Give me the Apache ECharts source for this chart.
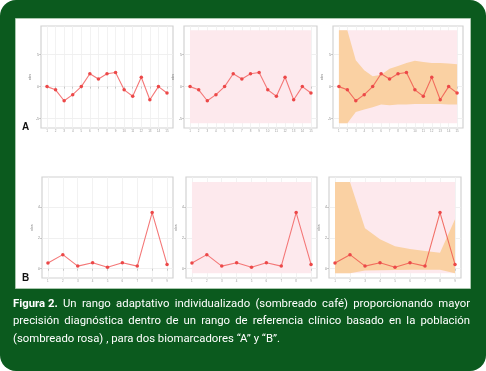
<!DOCTYPE html>
<html><head><meta charset="utf-8">
<script src="https://cdn.jsdelivr.net/npm/echarts@6/dist/echarts.min.js"></script>
<style>html,body{margin:0;padding:0;background:#fff}#c{width:486px;height:371px}</style>
</head><body><div id="c"></div>
<script>
// ---- data ----
const xA = [1,2,3,4,5,6,7,8,9,10,11,12,13,14,15];
const obsA = [0, -0.5, -2.2, -1.25, 0, 2.0, 1.2, 2.0, 2.2, -0.5, -1.5, 1.45, -2.05, 0, -1.0];
const refA = [-5.7, 8.8];
const bandLowA = [-5.7, -5.7, -3.95, -3.55, -3.2, -2.8, -2.9, -2.8, -2.77, -2.7, -2.7, -2.7, -2.7, -2.77, -2.77];
const bandHighA = [8.8, 8.8, 4.1, 2.55, 1.6, 1.87, 2.8, 3.2, 3.7, 4.05, 3.85, 3.7, 3.7, 3.6, 3.5];
const yTicksA = [-5, 0, 5];

const xB = [1,2,3,4,5,6,7,8,9];
const obsB = [0.37, 0.91, 0.17, 0.39, 0.09, 0.39, 0.17, 3.63, 0.28];
const refB = [-0.3, 5.6];
const bandLowB = [-0.3, -0.3, -0.12, -0.1, -0.08, -0.07, -0.07, -0.07, -0.3];
const bandHighB = [5.6, 5.6, 2.62, 1.9, 1.46, 1.27, 1.15, 1.03, 3.2];
const yTicksB = [0, 2, 4];

const yName = 'obs';
const rowLabels = ['A', 'B'];
const captionBold = 'Figura 2.';
const captionLines = [
  'Un rango adaptativo individualizado (sombreado café) proporcionando mayor',
  'precisión diagnóstica dentro de un rango de referencia clínico basado en la población',
  '(sombreado rosa) , para dos biomarcadores “A” y “B”.'
];

// ---- layout ----
const panels = [
  {row:'A', kind:0, left:41,  top:26,  width:132, height:102},
  {row:'A', kind:1, left:184, top:26,  width:133, height:102},
  {row:'A', kind:2, left:333, top:26,  width:130, height:102},
  {row:'B', kind:0, left:42,  top:177, width:131, height:101},
  {row:'B', kind:1, left:186, top:177, width:131, height:101},
  {row:'B', kind:2, left:329, top:177, width:132, height:101}
];
const rowData = {
  A: {x:xA, obs:obsA, ref:refA, lo:bandLowA, hi:bandHighA, yt:yTicksA, xmin:0.3, xmax:15.7, ymin:-6.45, ymax:9.45},
  B: {x:xB, obs:obsB, ref:refB, lo:bandLowB, hi:bandHighB, yt:yTicksB, xmin:0.6, xmax:9.4, ymin:-0.6, ymax:5.93}
};

const grid = [], xAxis = [], yAxis = [], series = [];
panels.forEach((p, i) => {
  const d = rowData[p.row];
  grid.push({left:p.left, top:p.top, width:p.width, height:p.height, show:true,
    borderColor:'#d2d2d2', borderWidth:1.2, backgroundColor:'#fff'});
  xAxis.push({type:'value', gridIndex:i, min:d.xmin, max:d.xmax,
    axisLine:{show:false},
    axisTick:{show:true, length:2, lineStyle:{color:'#aaa', width:0.6}, customValues:d.x},
    axisLabel:{customValues:d.x, fontSize:3, color:'#999', margin:2},
    splitLine:{show:true, lineStyle:{color:'#efefef', width:0.8}}});
  yAxis.push({type:'value', gridIndex:i, min:d.ymin, max:d.ymax,
    axisLine:{show:false},
    axisTick:{show:true, length:2, lineStyle:{color:'#aaa', width:0.6}, customValues:d.yt},
    axisLabel:{customValues:d.yt, fontSize:3.5, color:'#888', margin:2},
    splitLine:{show:true, lineStyle:{color:'#ececec', width:0.8}},
    name:yName, nameLocation:'middle', nameGap:6, nameRotate:90,
    nameTextStyle:{fontSize:4, color:'#777'}});
  if (p.kind >= 1) {
    series.push({type:'line', xAxisIndex:i, yAxisIndex:i, z:1, silent:true,
      data:[[d.x[0], d.ref[0]], [d.x[d.x.length-1], d.ref[0]]],
      symbol:'none', lineStyle:{opacity:0},
      markArea:{silent:true, z:1, itemStyle:{color:'#fde9ed'},
        data:[[{xAxis:d.x[0], yAxis:d.ref[0]}, {xAxis:d.x[d.x.length-1], yAxis:d.ref[1]}]]}});
  }
  if (p.kind === 2) {
    series.push({type:'custom', xAxisIndex:i, yAxisIndex:i, z:2, silent:true, clip:true,
      data:d.x.map((x, k) => [x, d.lo[k], d.hi[k]]),
      encode:{x:0, y:[1, 2]},
      renderItem:function (params, api) {
        if (params.dataIndex !== 0) return null;
        const up = d.x.map((x, k) => api.coord([x, d.hi[k]]));
        const dn = d.x.map((x, k) => api.coord([x, d.lo[k]])).reverse();
        return {type:'polygon', shape:{points:up.concat(dn)}, style:{fill:'#fad1a3'}};
      }});
  }
  series.push({type:'line', xAxisIndex:i, yAxisIndex:i, z:5, silent:true,
    data:d.x.map((x, k) => [x, d.obs[k]]),
    symbol:'circle', symbolSize:3.5,
    lineStyle:{color: p.kind === 2 ? 'rgba(240,90,80,0.85)' : '#f47878', width:1.1},
    itemStyle:{color:'#ec4848'}});
});

// ---- caption layout (text) ----
const FONT_SIZE = 11.5;
const FAM = 'Roboto, "Liberation Sans", sans-serif';
const ctx = document.createElement('canvas').getContext('2d');
function tw(t, bold) { ctx.font = (bold ? 'bold ' : '') + FONT_SIZE + 'px ' + FAM; return ctx.measureText(t).width; }
const sx = 267 / tw(captionLines[2]);
const capLeft = 13, capRight = 470, capY = [304, 321.5, 339];
const graphics = [
  {type:'rect', z:-10, shape:{x:0, y:0, width:486, height:371, r:16}, style:{fill:'#0b5a1e'}},
  {type:'rect', z:-9, shape:{x:15.5, y:18.5, width:455, height:270}, style:{fill:'#fff', stroke:'#a9c7ae', lineWidth:1}}
];
rowLabels.forEach((l, k) => {
  graphics.push({type:'text', z:50, x:22, y: k === 0 ? 127 : 278,
    style:{text:l, fill:'#111', font:'bold 10px "Liberation Sans", Arial, sans-serif', align:'left', verticalAlign:'middle'}});
});
captionLines.forEach((line, li) => {
  const words = [];
  if (li === 0) words.push({t:captionBold, b:true});
  line.split(' ').forEach(w => words.push({t:w, b:false}));
  const widths = words.map(w => tw(w.t, w.b) * sx);
  const total = widths.reduce((a, b) => a + b, 0);
  const gap = li < 2 ? (capRight - capLeft - total) / (words.length - 1) : tw(' ') * sx;
  let x = capLeft;
  words.forEach((w, k) => {
    graphics.push({type:'text', z:50, x:x, y:capY[li], scaleX:sx, scaleY:1,
      style:{text:w.t, fill:'#fff', font:(w.b ? 'bold ' : '') + FONT_SIZE + 'px ' + FAM, align:'left', verticalAlign:'middle'}});
    x += widths[k] + gap;
  });
});

const chart = echarts.init(document.getElementById('c'), null, {renderer:'canvas'});
chart.setOption({
  animation:false,
  backgroundColor:'#fff',
  grid, xAxis, yAxis, series,
  graphic:{elements:graphics}
});
</script></body></html>
